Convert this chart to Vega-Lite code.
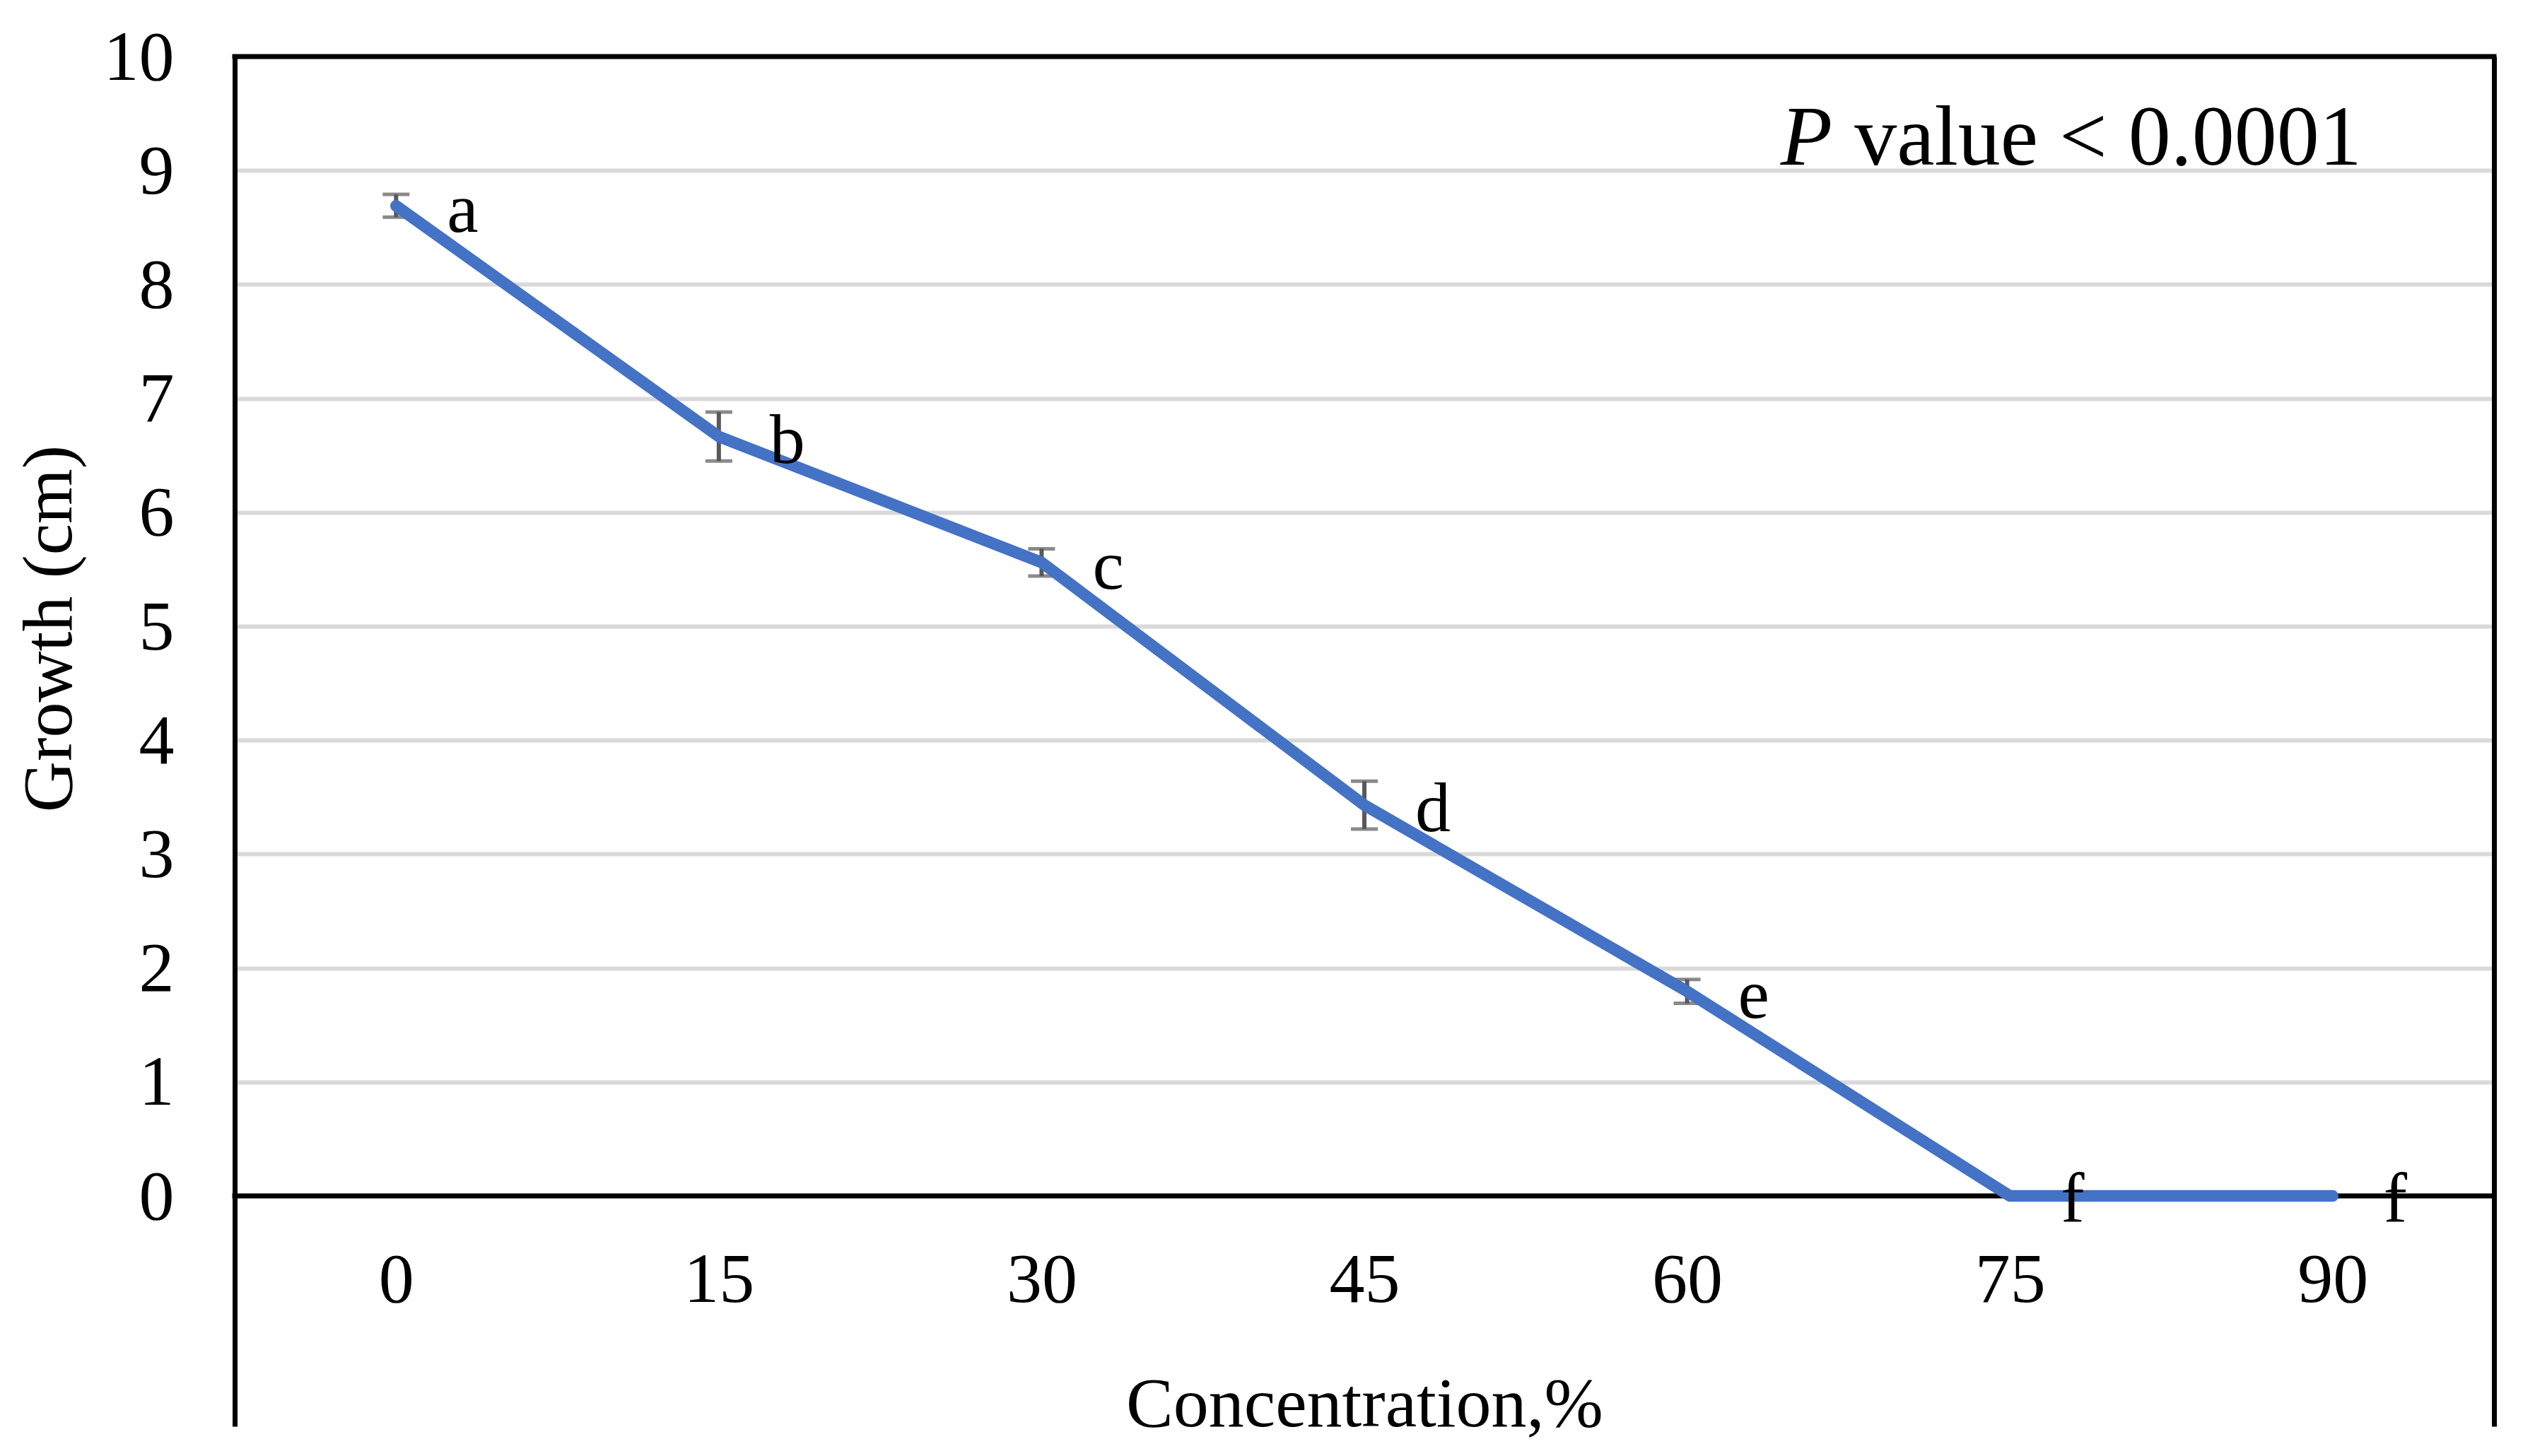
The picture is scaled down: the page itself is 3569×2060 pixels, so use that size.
{
  "$schema": "https://vega.github.io/schema/vega-lite/v6.json",
  "width": 3196,
  "height": 1938,
  "autosize": {"type": "none"},
  "padding": {"left": 332, "top": 80, "right": 41, "bottom": 42},
  "background": "white",
  "config": {
    "view": {"stroke": null},
    "font": "Liberation Serif",
    "axis": {"labelFont": "Liberation Serif", "titleFont": "Liberation Serif", "labelColor": "black", "titleColor": "black", "titleFontWeight": "normal"}
  },
  "data": {
    "values": [
      {"conc": 0, "mean": 8.69, "lo": 8.59, "hi": 8.79, "letter": "a"},
      {"conc": 15, "mean": 6.665, "lo": 6.45, "hi": 6.88, "letter": "b"},
      {"conc": 30, "mean": 5.56, "lo": 5.44, "hi": 5.68, "letter": "c"},
      {"conc": 45, "mean": 3.43, "lo": 3.22, "hi": 3.64, "letter": "d"},
      {"conc": 60, "mean": 1.795, "lo": 1.69, "hi": 1.9, "letter": "e"},
      {"conc": 75, "mean": 0, "lo": 0, "hi": 0, "letter": "f"},
      {"conc": 90, "mean": 0, "lo": 0, "hi": 0, "letter": "f"}
    ]
  },
  "layer": [
    {
      "mark": {"type": "rule", "color": "#595959", "strokeWidth": 6},
      "encoding": {
        "x": {"field": "conc", "type": "ordinal", "scale": {"type": "point", "padding": 0.5}, "axis": null},
        "y": {
          "field": "lo", "type": "quantitative",
          "scale": {"domain": [-2.022, 10], "nice": false, "zero": false},
          "axis": {
            "orient": "left", "values": [0, 1, 2, 3, 4, 5, 6, 7, 8, 9, 10],
            "domain": true, "domainColor": "black", "domainWidth": 7,
            "ticks": false, "tickSize": 0,
            "labelFontSize": 100, "labelPadding": 86, "labelOffset": 2,
            "grid": true, "gridColor": "#d9d9d9", "gridWidth": 6,
            "title": "Growth (cm)", "titleFontSize": 100, "titleAngle": 270,
            "titleX": -232, "titleY": 809, "titleBaseline": "alphabetic", "titleAlign": "center"
          }
        },
        "y2": {"field": "hi"}
      }
    },
    {
      "transform": [{"fold": ["lo", "hi"], "as": ["bound", "val"]}],
      "mark": {"type": "tick", "color": "#595959", "size": 38, "thickness": 5},
      "encoding": {
        "x": {"field": "conc", "type": "ordinal", "scale": {"type": "point", "padding": 0.5}, "axis": null},
        "y": {
          "field": "val", "type": "quantitative",
          "scale": {"domain": [-2.022, 10], "nice": false, "zero": false},
          "axis": {"orient": "right", "domain": true, "domainColor": "black", "domainWidth": 7, "labels": false, "ticks": false, "grid": false, "title": null}
        }
      }
    },
    {
      "data": {"values": [{}]},
      "mark": {"type": "rule", "color": "black", "strokeWidth": 7, "strokeCap": "square"},
      "encoding": {
        "y": {"datum": 0, "type": "quantitative", "scale": {"domain": [-2.022, 10], "nice": false, "zero": false}, "axis": null}
      }
    },
    {
      "data": {"values": [{}]},
      "mark": {"type": "rule", "color": "black", "strokeWidth": 7, "strokeCap": "square"},
      "encoding": {
        "y": {"datum": 10, "type": "quantitative", "scale": {"domain": [-2.022, 10], "nice": false, "zero": false}, "axis": null}
      }
    },
    {
      "mark": {"type": "line", "color": "#4472C4", "strokeWidth": 16.5, "strokeCap": "round", "strokeJoin": "round"},
      "encoding": {
        "x": {
          "field": "conc", "type": "ordinal", "scale": {"type": "point", "padding": 0.5},
          "axis": {
            "orient": "bottom", "offset": -326, "domain": false, "ticks": false, "tickSize": 0,
            "labelFontSize": 100, "labelPadding": 70, "labelAngle": 0, "grid": false,
            "title": "Concentration,%", "titleFontSize": 100, "titleX": 1598, "titleY": 325,
            "titleBaseline": "alphabetic", "titleAlign": "center"
          }
        },
        "y": {"field": "mean", "type": "quantitative", "scale": {"domain": [-2.022, 10], "nice": false, "zero": false}, "axis": null}
      }
    },
    {
      "mark": {"type": "text", "align": "left", "baseline": "alphabetic", "dx": 72, "dy": 37, "fontSize": 100, "font": "Liberation Serif", "color": "black"},
      "encoding": {
        "x": {"field": "conc", "type": "ordinal", "scale": {"type": "point", "padding": 0.5}, "axis": null},
        "y": {"field": "mean", "type": "quantitative", "scale": {"domain": [-2.022, 10], "nice": false, "zero": false}, "axis": null},
        "text": {"field": "letter"}
      }
    },
    {
      "data": {"values": [{"label": "P"}]},
      "mark": {"type": "text", "align": "left", "baseline": "alphabetic", "dx": -781, "fontSize": 120, "font": "Liberation Serif", "fontStyle": "italic", "color": "black"},
      "encoding": {
        "x": {"datum": 90, "type": "ordinal", "scale": {"type": "point", "padding": 0.5}, "axis": null},
        "y": {"datum": 9.05, "type": "quantitative", "scale": {"domain": [-2.022, 10], "nice": false, "zero": false}, "axis": null},
        "text": {"field": "label"}
      }
    },
    {
      "data": {"values": [{"label": "value < 0.0001"}]},
      "mark": {"type": "text", "align": "right", "baseline": "alphabetic", "dx": 41, "fontSize": 120, "font": "Liberation Serif", "color": "black"},
      "encoding": {
        "x": {"datum": 90, "type": "ordinal", "scale": {"type": "point", "padding": 0.5}, "axis": null},
        "y": {"datum": 9.05, "type": "quantitative", "scale": {"domain": [-2.022, 10], "nice": false, "zero": false}, "axis": null},
        "text": {"field": "label"}
      }
    }
  ],
  "resolve": {"axis": {"x": "independent", "y": "independent"}}
}
